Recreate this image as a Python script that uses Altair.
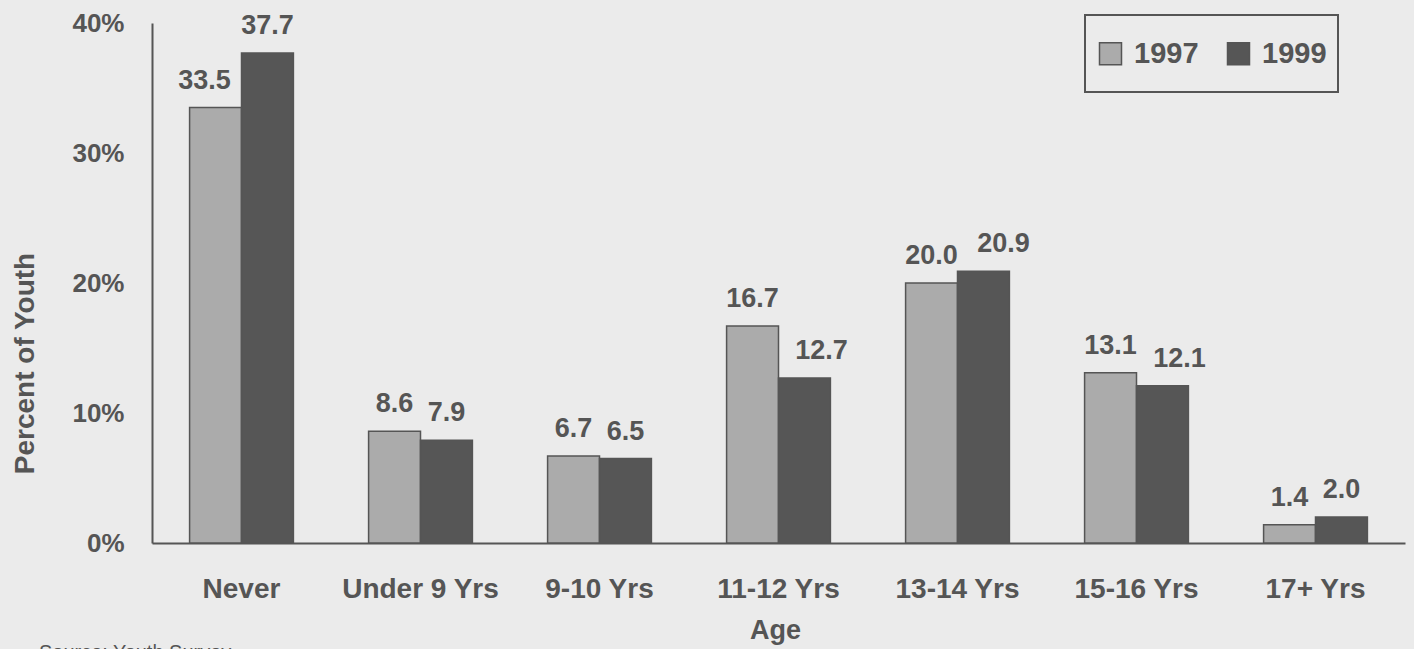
import altair as alt
import pandas as pd

# Age at first use, share of youth by survey year
ages = ["Never", "Under 9 Yrs", "9-10 Yrs", "11-12 Yrs", "13-14 Yrs", "15-16 Yrs", "17+ Yrs"]
years = ["1997", "1999"]
pct_1997 = [33.5, 8.6, 6.7, 16.7, 20.0, 13.1, 1.4]
pct_1999 = [37.7, 7.9, 6.5, 12.7, 20.9, 12.1, 2.0]
source_note = "Source: Youth Survey"

rows = []
for year, series in zip(years, [pct_1997, pct_1999]):
    for age, value in zip(ages, series):
        rows.append({"age": age, "year": year, "pct": value, "label": f"{value:.1f}"})
df = pd.DataFrame(rows)

# horizontal nudges (px) for a few value labels
label_shift = {("Never", "1997"): -11, ("11-12 Yrs", "1999"): 17,
               ("13-14 Yrs", "1999"): 20, ("15-16 Yrs", "1999"): 17}
df["shift"] = [label_shift.get((a, y), 0) for a, y in zip(df["age"], df["year"])]

INK = "#555555"
FONT = "Liberation Sans"
PAPER = "#ebebeb"

# square swatch; the bare move-to point below it only widens its bounds so the
# framed legend box gets some room under the entries
SWATCH = "M-1,-1H1V1H-1Z M0,2.2"

x_enc = alt.X(
    "age:N", sort=ages,
    scale=alt.Scale(paddingInner=0.42, paddingOuter=0.21),
    axis=alt.Axis(
        title="Age", labelAngle=0, ticks=False, tickSize=0,
        domainColor=INK, domainWidth=2,
        labelFont=FONT, labelFontSize=28, labelFontWeight="bold", labelColor=INK,
        labelBaseline="alphabetic", labelPadding=54,
        titleFont=FONT, titleFontSize=27, titleFontWeight="bold", titleColor=INK,
        titleX=623, titleY=95, titleBaseline="alphabetic", titleAlign="center",
    ),
)
y_enc = alt.Y(
    "pct:Q",
    scale=alt.Scale(domain=[0, 40], nice=False),
    axis=alt.Axis(
        values=[0, 10, 20, 30, 40], labelExpr="datum.value + '%'",
        grid=False, ticks=False, tickSize=0,
        domainColor=INK, domainWidth=2,
        labelFont=FONT, labelFontSize=26, labelFontWeight="bold", labelColor=INK,
        labelPadding=28,
        title="Percent of Youth",
        titleFont=FONT, titleFontSize=28, titleFontWeight="bold", titleColor=INK,
        titleX=-119, titleY=340, titleBaseline="alphabetic", titleAlign="center",
        titleAngle=270,
    ),
)
xoff = alt.XOffset("year:N", sort=years, scale=alt.Scale(paddingInner=0, paddingOuter=0))

base = alt.Chart(df)

bars = base.mark_bar(stroke=INK, strokeWidth=1.5).encode(
    x=x_enc, xOffset=xoff, y=y_enc,
    color=alt.Color(
        "year:N", sort=years,
        scale=alt.Scale(domain=years, range=["#ababab", "#565656"]),
        legend=alt.Legend(
            # a blank title line keeps room above the entries
            title=" ", titleFontSize=1, titlePadding=12,
            orient="none", legendX=933, legendY=-8,
            direction="horizontal", symbolType=SWATCH, symbolSize=484,
            symbolStrokeColor=INK, symbolStrokeWidth=1.5,
            labelFont=FONT, labelFontSize=29, labelFontWeight="bold", labelColor=INK,
            labelOffset=9, columnPadding=25, padding=11,
            strokeColor=INK,
        ),
    ),
)

label_layers = []
for s in sorted(df["shift"].unique()):
    label_layers.append(
        base.transform_filter(alt.datum.shift == int(s)).mark_text(
            baseline="alphabetic", dy=-19, dx=int(s),
            font=FONT, fontSize=27, fontWeight="bold", color=INK,
        ).encode(x=x_enc, xOffset=xoff, y=y_enc, text="label:N")
    )

note = alt.Chart(pd.DataFrame({"note": [source_note]})).mark_text(
    align="left", baseline="alphabetic", font=FONT, fontSize=20, color=INK,
).encode(x=alt.value(-113), y=alt.value(636), text="note:N")

chart = alt.layer(bars, *label_layers, note).properties(
    width=1253, height=520,
    autosize=alt.AutoSizeParams(type="none"),
    padding={"left": 152, "top": 23, "right": 9, "bottom": 106},
    background=PAPER,
).configure_view(stroke=None).configure_legend(strokeWidth=2)

chart.save("out.html", embed_options={"renderer": "svg", "actions": False})
